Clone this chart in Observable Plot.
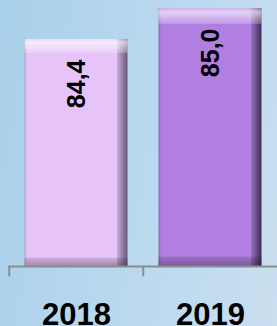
<!DOCTYPE html>
<html><head><meta charset="utf-8">
<script src="https://cdn.jsdelivr.net/npm/d3@7"></script>
<script src="https://cdn.jsdelivr.net/npm/@observablehq/plot@0.6"></script>
<style>
html,body{margin:0;padding:0;}
#chart{width:277px;height:326px;overflow:hidden;background:linear-gradient(100deg,#a9d0ea 0%,#b9d8ee 50%,#cadff0 100%);}
</style>
</head><body><div id="chart"></div>
<script>
const years = ["2018", "2019"];
const values = [84.4, 85.0];
const valueLabels = ["84,4", "85,0"];
const barFills = ["url(#h2018)", "url(#h2019)"];

const data = years.map((y, i) => ({year: y, value: values[i], label: valueLabels[i], fill: barFills[i]}));

const plot = Plot.plot({
  width: 277,
  height: 326,
  marginTop: 0,
  marginBottom: 60,
  marginLeft: 8,
  marginRight: 0,
  style: {background: "transparent", fontFamily: "'Liberation Sans', Arial, sans-serif", overflow: "visible"},
  x: {domain: years, padding: 0, axis: null},
  y: {domain: [80, 85.155], axis: null},
  color: {type: "identity"},
  marks: [
    Plot.barY(data, {x: "year", y1: 80, y2: "value", fill: "fill", insetLeft: 15.5, insetRight: 15.5}),
    Plot.barY(data, {x: "year", y1: 80, y2: "value", fill: "url(#vshade)", insetLeft: 15.5, insetRight: 15.5}),
    Plot.text(data, {x: "year", y: "value", text: "label", rotate: -90, textAnchor: "end", dy: 20,
      fontSize: 25, fontWeight: "bold", fill: "#000"}),
    Plot.ruleY([80], {stroke: "#8c8c8c", strokeWidth: 2}),
    Plot.ruleX(data, {x: "year", y1: 80, y2: 79.8, dx: -67.25, stroke: "#8c8c8c", strokeWidth: 2}),
    Plot.text(data, {x: "year", text: "year", frameAnchor: "bottom", lineAnchor: "top", dy: 36,
      fontSize: 31, fontWeight: "bold", fill: "#000"})
  ]
});

const defs = `
<defs>
  <linearGradient id="h2018" x1="0" y1="0" x2="1" y2="0">
    <stop offset="0" stop-color="#b9a0c9"/>
    <stop offset="0.025" stop-color="#e6c3f9"/>
    <stop offset="0.895" stop-color="#e6c3f9"/>
    <stop offset="0.9" stop-color="#c8a9d9"/>
    <stop offset="1" stop-color="#66577a"/>
  </linearGradient>
  <linearGradient id="h2019" x1="0" y1="0" x2="1" y2="0">
    <stop offset="0" stop-color="#8a64b2"/>
    <stop offset="0.025" stop-color="#b17fe1"/>
    <stop offset="0.895" stop-color="#b17fe1"/>
    <stop offset="0.9" stop-color="#9670c0"/>
    <stop offset="1" stop-color="#3d2d52"/>
  </linearGradient>
  <linearGradient id="vshade" x1="0" y1="0" x2="0" y2="1">
    <stop offset="0" stop-color="#ffffff" stop-opacity="0.35"/>
    <stop offset="0.015" stop-color="#ffffff" stop-opacity="0.65"/>
    <stop offset="0.06" stop-color="#ffffff" stop-opacity="0.22"/>
    <stop offset="0.062" stop-color="#ffffff" stop-opacity="0"/>
    <stop offset="0.962" stop-color="#000000" stop-opacity="0"/>
    <stop offset="0.965" stop-color="#000000" stop-opacity="0.12"/>
    <stop offset="1" stop-color="#000000" stop-opacity="0.3"/>
  </linearGradient>
</defs>`;
plot.insertAdjacentHTML("afterbegin", defs);
document.getElementById("chart").appendChild(plot);
</script>
</body></html>
